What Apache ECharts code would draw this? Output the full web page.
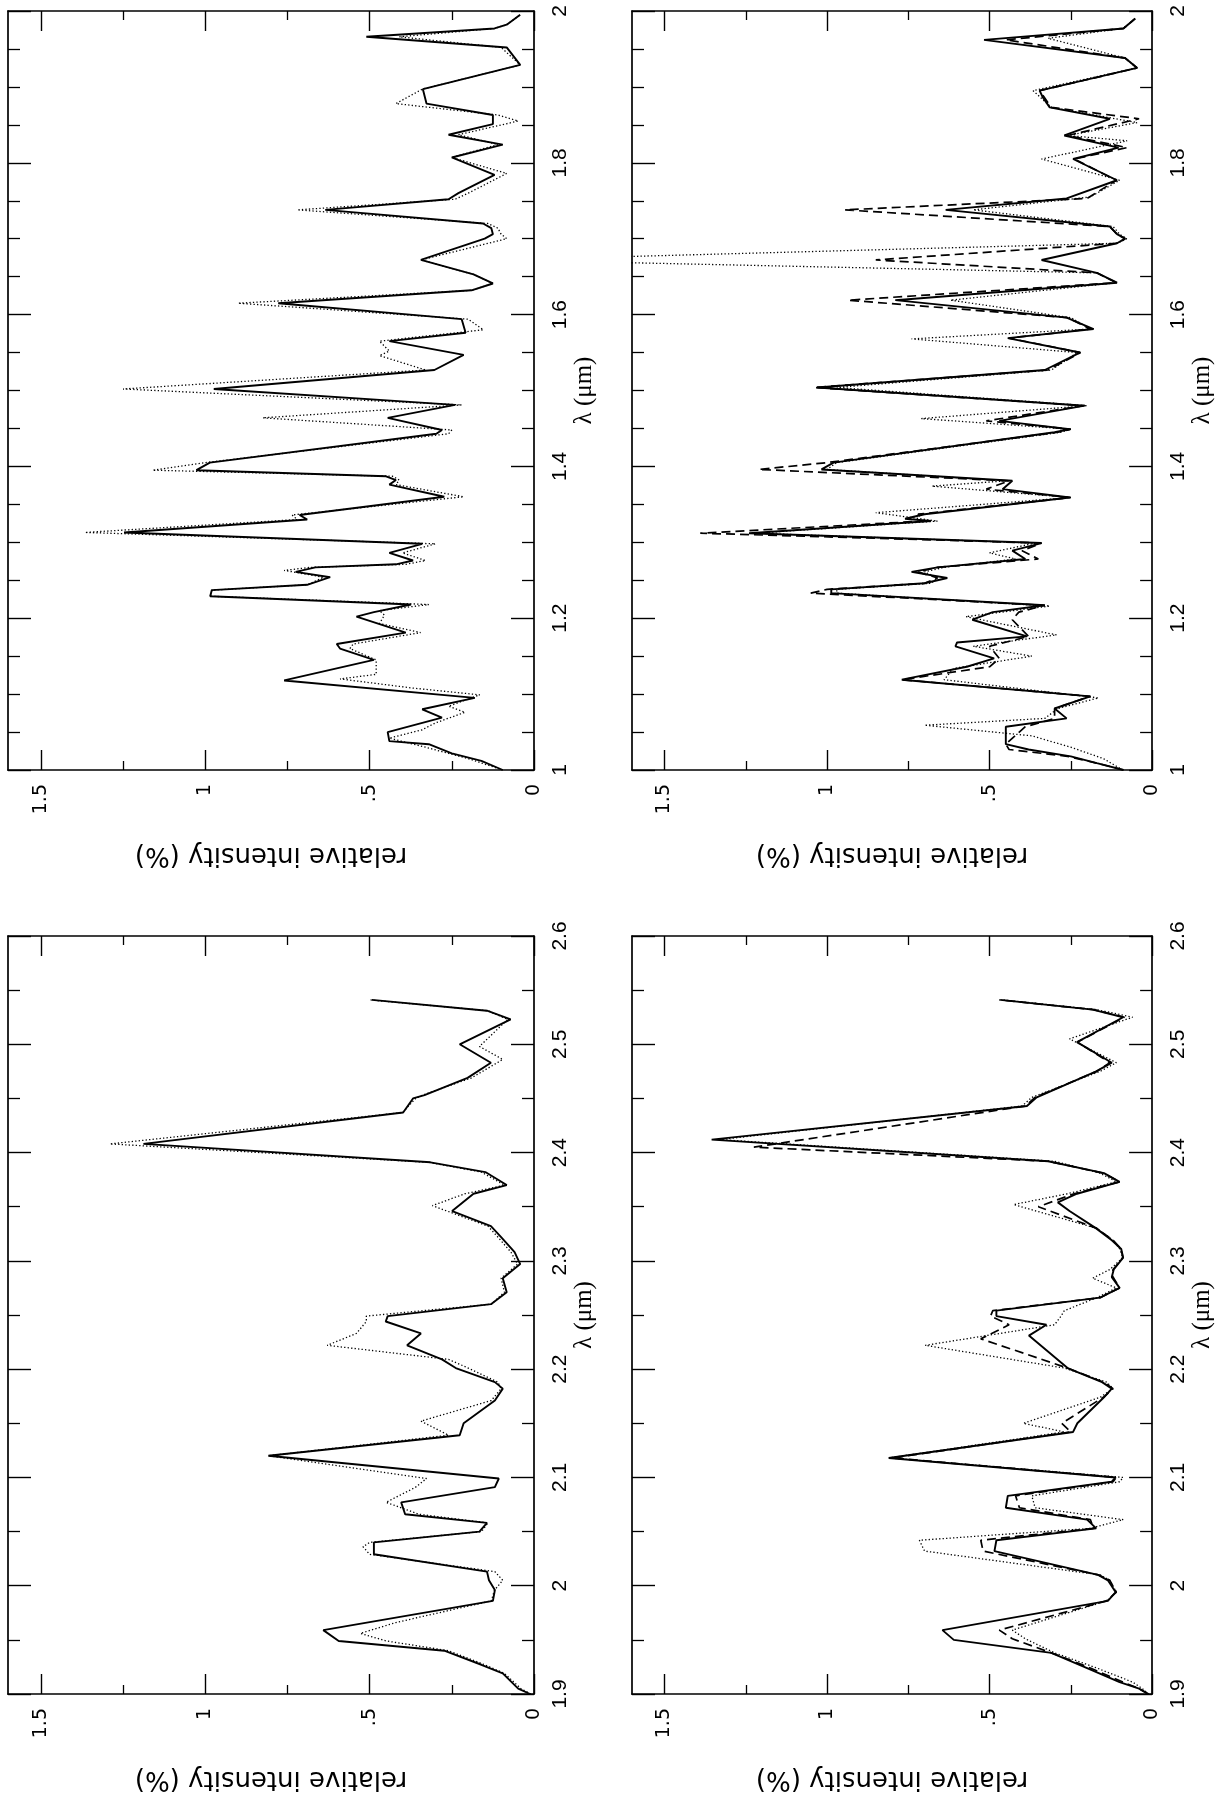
<!DOCTYPE html>
<html><head><meta charset="utf-8">
<script src="https://cdn.jsdelivr.net/npm/echarts@6/dist/echarts.min.js"></script>
<style>html,body{margin:0;padding:0;background:#fff}#c{width:1216px;height:1807px}</style>
</head><body><div id="c"></div>
<script>
// ---- tick values / labels ----
const intensityTicks = [0, 0.5, 1, 1.5];
const intensityMinorTicks = [0.25, 0.75, 1.25];
const intensityLabels = ['0', '.5', '1', '1.5'];
const xName = 'relative intensity (%)';
const yName = 'λ (μm)';

// ---- data: [wavelength (μm), relative intensity (%)] ----
// top-left panel (1–2 μm)
const tlSolid = [[1.000,0.095],[1.012,0.16],[1.022,0.25],[1.034,0.32],[1.038,0.44],[1.050,0.445],[1.069,0.28],[1.080,0.34],[1.095,0.18],[1.118,0.76],[1.145,0.487],[1.160,0.59],[1.166,0.60],[1.181,0.39],[1.202,0.54],[1.208,0.487],[1.218,0.374],[1.229,0.985],[1.237,0.98],[1.244,0.69],[1.254,0.62],[1.261,0.725],[1.267,0.665],[1.271,0.42],[1.276,0.368],[1.286,0.44],[1.298,0.34],[1.313,1.247],[1.330,0.69],[1.336,0.713],[1.360,0.273],[1.376,0.44],[1.382,0.42],[1.387,0.45],[1.395,1.027],[1.405,0.986],[1.443,0.297],[1.448,0.28],[1.464,0.445],[1.481,0.24],[1.502,0.974],[1.527,0.303],[1.547,0.214],[1.565,0.44],[1.576,0.208],[1.594,0.22],[1.615,0.778],[1.632,0.19],[1.641,0.125],[1.653,0.184],[1.672,0.344],[1.700,0.15],[1.706,0.125],[1.714,0.13],[1.720,0.155],[1.738,0.635],[1.752,0.26],[1.760,0.23],[1.784,0.12],[1.807,0.25],[1.824,0.095],[1.837,0.26],[1.851,0.125],[1.863,0.125],[1.878,0.327],[1.897,0.338],[1.929,0.042],[1.952,0.083],[1.966,0.51],[1.977,0.12],[1.982,0.083],[1.995,0.042]];
const tlDot = [[1.000,0.095],[1.015,0.20],[1.030,0.33],[1.042,0.44],[1.053,0.34],[1.062,0.30],[1.076,0.21],[1.084,0.26],[1.099,0.165],[1.108,0.37],[1.120,0.59],[1.126,0.48],[1.145,0.48],[1.160,0.56],[1.166,0.55],[1.181,0.345],[1.193,0.47],[1.204,0.455],[1.210,0.47],[1.218,0.32],[1.229,0.985],[1.237,0.98],[1.244,0.69],[1.254,0.64],[1.263,0.76],[1.267,0.68],[1.271,0.39],[1.276,0.33],[1.286,0.40],[1.298,0.30],[1.313,1.366],[1.330,0.72],[1.336,0.736],[1.360,0.214],[1.376,0.42],[1.382,0.41],[1.387,0.43],[1.395,1.16],[1.405,1.0],[1.443,0.26],[1.448,0.25],[1.464,0.825],[1.481,0.22],[1.502,1.25],[1.527,0.33],[1.546,0.47],[1.552,0.44],[1.565,0.47],[1.580,0.154],[1.594,0.20],[1.615,0.90],[1.632,0.19],[1.641,0.125],[1.653,0.184],[1.672,0.344],[1.700,0.083],[1.706,0.10],[1.714,0.11],[1.720,0.14],[1.738,0.72],[1.752,0.24],[1.760,0.20],[1.786,0.083],[1.807,0.25],[1.824,0.11],[1.837,0.23],[1.855,0.048],[1.863,0.11],[1.878,0.42],[1.897,0.34],[1.929,0.042],[1.952,0.10],[1.966,0.41],[1.977,0.12],[1.982,0.083],[1.995,0.042]];
// top-right panel (1–2 μm)
const trSolid = [[1.000,0.088],[1.009,0.17],[1.018,0.25],[1.027,0.38],[1.034,0.45],[1.057,0.45],[1.068,0.263],[1.081,0.30],[1.097,0.19],[1.119,0.77],[1.136,0.57],[1.147,0.486],[1.163,0.605],[1.168,0.60],[1.176,0.385],[1.198,0.553],[1.208,0.49],[1.217,0.33],[1.233,0.987],[1.238,0.987],[1.246,0.70],[1.253,0.63],[1.261,0.74],[1.267,0.66],[1.278,0.39],[1.289,0.43],[1.299,0.34],[1.312,1.24],[1.328,0.68],[1.331,0.76],[1.337,0.70],[1.359,0.253],[1.370,0.46],[1.381,0.43],[1.396,1.017],[1.405,0.98],[1.445,0.30],[1.449,0.253],[1.460,0.47],[1.480,0.207],[1.504,1.03],[1.527,0.33],[1.550,0.222],[1.569,0.444],[1.581,0.18],[1.596,0.263],[1.619,0.79],[1.642,0.108],[1.655,0.17],[1.672,0.34],[1.694,0.108],[1.700,0.083],[1.706,0.108],[1.716,0.13],[1.738,0.635],[1.753,0.263],[1.777,0.108],[1.805,0.243],[1.820,0.103],[1.836,0.27],[1.858,0.13],[1.873,0.315],[1.886,0.336],[1.895,0.346],[1.925,0.046],[1.938,0.083],[1.962,0.517],[1.977,0.088],[1.990,0.052]];
const trDot = [[1.000,0.09],[1.015,0.15],[1.030,0.25],[1.045,0.37],[1.059,0.70],[1.068,0.33],[1.081,0.29],[1.095,0.165],[1.119,0.64],[1.134,0.61],[1.150,0.37],[1.163,0.55],[1.178,0.294],[1.202,0.573],[1.216,0.315],[1.233,0.97],[1.238,0.97],[1.246,0.68],[1.253,0.66],[1.261,0.70],[1.267,0.64],[1.278,0.42],[1.286,0.50],[1.299,0.36],[1.312,1.22],[1.328,0.66],[1.339,0.85],[1.359,0.25],[1.374,0.677],[1.381,0.45],[1.396,1.00],[1.405,0.97],[1.445,0.28],[1.449,0.25],[1.463,0.71],[1.480,0.20],[1.504,0.97],[1.527,0.31],[1.550,0.23],[1.568,0.74],[1.581,0.19],[1.596,0.25],[1.619,0.62],[1.642,0.11],[1.655,0.17],[1.672,2.0],[1.694,0.108],[1.700,0.078],[1.706,0.10],[1.716,0.12],[1.738,0.55],[1.755,0.19],[1.777,0.10],[1.805,0.34],[1.829,0.077],[1.836,0.26],[1.853,0.046],[1.873,0.31],[1.895,0.366],[1.925,0.046],[1.938,0.083],[1.964,0.32],[1.977,0.09],[1.990,0.052]];
const trDash = [[1.000,0.088],[1.009,0.17],[1.018,0.26],[1.027,0.44],[1.034,0.45],[1.057,0.39],[1.068,0.30],[1.081,0.30],[1.097,0.19],[1.119,0.77],[1.136,0.50],[1.147,0.47],[1.163,0.50],[1.176,0.38],[1.198,0.43],[1.208,0.41],[1.217,0.33],[1.233,1.05],[1.238,1.0],[1.246,0.70],[1.253,0.66],[1.261,0.72],[1.267,0.66],[1.278,0.35],[1.289,0.40],[1.299,0.34],[1.312,1.39],[1.328,0.70],[1.337,0.72],[1.359,0.25],[1.370,0.51],[1.381,0.44],[1.396,1.21],[1.405,1.0],[1.445,0.29],[1.449,0.25],[1.460,0.51],[1.480,0.21],[1.504,1.04],[1.527,0.32],[1.550,0.22],[1.569,0.44],[1.581,0.19],[1.596,0.26],[1.619,0.935],[1.642,0.11],[1.655,0.17],[1.672,0.85],[1.694,0.108],[1.700,0.083],[1.706,0.108],[1.716,0.13],[1.738,0.945],[1.753,0.20],[1.777,0.11],[1.805,0.24],[1.820,0.077],[1.836,0.26],[1.858,0.04],[1.873,0.31],[1.895,0.346],[1.925,0.046],[1.938,0.083],[1.962,0.45],[1.977,0.088],[1.990,0.052]];
// bottom-left panel (1.9–2.6 μm)
const blSolid = [[1.900,0.012],[1.905,0.048],[1.919,0.095],[1.927,0.16],[1.940,0.273],[1.949,0.594],[1.959,0.641],[1.986,0.125],[1.996,0.119],[2.005,0.137],[2.013,0.143],[2.029,0.487],[2.040,0.487],[2.050,0.166],[2.058,0.143],[2.066,0.392],[2.077,0.404],[2.091,0.119],[2.099,0.107],[2.120,0.808],[2.139,0.226],[2.150,0.214],[2.171,0.119],[2.182,0.095],[2.188,0.119],[2.201,0.238],[2.209,0.28],[2.222,0.386],[2.233,0.344],[2.244,0.451],[2.249,0.445],[2.260,0.131],[2.271,0.083],[2.284,0.095],[2.297,0.042],[2.308,0.059],[2.322,0.10],[2.332,0.131],[2.346,0.249],[2.362,0.184],[2.370,0.083],[2.382,0.148],[2.391,0.315],[2.408,1.188],[2.437,0.398],[2.450,0.368],[2.453,0.333],[2.469,0.202],[2.483,0.131],[2.500,0.226],[2.523,0.071],[2.531,0.143],[2.541,0.493]];
const blDot = [[1.900,0.01],[1.905,0.04],[1.919,0.09],[1.927,0.15],[1.940,0.26],[1.949,0.45],[1.956,0.528],[1.966,0.42],[1.986,0.13],[1.996,0.12],[2.005,0.095],[2.013,0.119],[2.029,0.50],[2.036,0.52],[2.040,0.50],[2.050,0.16],[2.058,0.14],[2.066,0.35],[2.077,0.45],[2.091,0.36],[2.099,0.327],[2.120,0.808],[2.139,0.26],[2.152,0.344],[2.171,0.13],[2.182,0.10],[2.188,0.11],[2.201,0.20],[2.209,0.26],[2.222,0.629],[2.233,0.54],[2.244,0.51],[2.249,0.51],[2.260,0.13],[2.271,0.09],[2.284,0.10],[2.297,0.05],[2.308,0.07],[2.322,0.11],[2.332,0.14],[2.351,0.309],[2.362,0.21],[2.370,0.09],[2.382,0.16],[2.391,0.32],[2.408,1.29],[2.437,0.40],[2.450,0.36],[2.453,0.34],[2.469,0.19],[2.486,0.095],[2.498,0.166],[2.523,0.08],[2.531,0.14],[2.541,0.50]];
// bottom-right panel (1.9–2.6 μm)
const brSolid = [[1.900,0.012],[1.905,0.04],[1.911,0.10],[1.924,0.20],[1.938,0.31],[1.950,0.61],[1.959,0.645],[1.986,0.136],[1.994,0.112],[2.005,0.136],[2.010,0.166],[2.032,0.485],[2.042,0.479],[2.053,0.172],[2.061,0.20],[2.072,0.45],[2.083,0.444],[2.096,0.124],[2.100,0.112],[2.118,0.81],[2.142,0.243],[2.150,0.23],[2.174,0.148],[2.182,0.124],[2.188,0.154],[2.201,0.26],[2.231,0.379],[2.241,0.325],[2.249,0.479],[2.254,0.479],[2.266,0.16],[2.275,0.10],[2.285,0.124],[2.292,0.118],[2.303,0.089],[2.311,0.095],[2.319,0.124],[2.330,0.172],[2.346,0.254],[2.354,0.29],[2.362,0.231],[2.373,0.10],[2.381,0.148],[2.392,0.32],[2.412,1.355],[2.443,0.385],[2.451,0.355],[2.475,0.172],[2.483,0.124],[2.502,0.231],[2.525,0.089],[2.532,0.183],[2.541,0.467]];
const brDot = [[1.900,0.01],[1.905,0.03],[1.911,0.06],[1.924,0.17],[1.938,0.30],[1.951,0.39],[1.959,0.43],[1.986,0.14],[1.994,0.11],[2.005,0.13],[2.010,0.16],[2.032,0.70],[2.042,0.716],[2.053,0.19],[2.061,0.089],[2.072,0.36],[2.083,0.37],[2.096,0.10],[2.100,0.089],[2.118,0.81],[2.142,0.27],[2.150,0.396],[2.174,0.16],[2.182,0.12],[2.188,0.14],[2.201,0.27],[2.222,0.698],[2.241,0.30],[2.249,0.28],[2.254,0.27],[2.266,0.17],[2.275,0.11],[2.284,0.183],[2.292,0.13],[2.303,0.09],[2.311,0.10],[2.319,0.12],[2.330,0.17],[2.352,0.426],[2.362,0.26],[2.373,0.11],[2.381,0.16],[2.392,0.30],[2.412,1.33],[2.443,0.40],[2.451,0.37],[2.475,0.16],[2.483,0.11],[2.505,0.254],[2.525,0.06],[2.532,0.17],[2.541,0.46]];
const brDash = [[1.900,0.012],[1.905,0.04],[1.911,0.09],[1.924,0.19],[1.938,0.31],[1.951,0.43],[1.959,0.47],[1.986,0.14],[1.994,0.11],[2.005,0.13],[2.010,0.165],[2.032,0.52],[2.042,0.527],[2.053,0.18],[2.061,0.19],[2.072,0.408],[2.083,0.42],[2.096,0.12],[2.100,0.11],[2.118,0.80],[2.142,0.25],[2.150,0.278],[2.174,0.15],[2.182,0.12],[2.188,0.15],[2.201,0.26],[2.228,0.527],[2.241,0.44],[2.249,0.497],[2.254,0.49],[2.266,0.16],[2.275,0.10],[2.287,0.124],[2.292,0.12],[2.303,0.09],[2.311,0.095],[2.319,0.12],[2.330,0.17],[2.350,0.35],[2.362,0.24],[2.373,0.10],[2.381,0.15],[2.392,0.32],[2.405,1.225],[2.443,0.39],[2.451,0.36],[2.475,0.17],[2.483,0.13],[2.502,0.23],[2.525,0.085],[2.532,0.18],[2.541,0.47]];

// ---- layout / styling ----
const grids = [
  {left: 8,   top: 11,  width: 526, height: 759},
  {left: 632, top: 11,  width: 524, height: 759},
  {left: 8,   top: 936, width: 526, height: 758},
  {left: 632, top: 936, width: 524, height: 758}
];
const lamRanges = [[1, 2, 0.2, 4], [1, 2, 0.2, 4], [1.9, 2.6, 0.1, 2], [1.9, 2.6, 0.1, 2]];
const panelSeries = [
  [['dot', tlDot], ['solid', tlSolid]],
  [['dot', trDot], ['dash', trDash], ['solid', trSolid]],
  [['dot', blDot], ['solid', blSolid]],
  [['dot', brDot], ['dash', brDash], ['solid', brSolid]]
];
const lineStyles = {
  solid: {color: '#000', width: 1.9, type: 'solid'},
  dot:   {color: '#000', width: 1.3, type: [1.3, 2.2]},
  dash:  {color: '#000', width: 1.7, type: [9, 5]}
};
const BLACK = '#000';
const frameLine = {show: true, onZero: false, lineStyle: {color: BLACK, width: 1.7}};

const xAxes = [], yAxes = [], series = [];
grids.forEach((g, gi) => {
  const base = {gridIndex: gi, type: 'value', min: 0, max: 1.6, inverse: true, interval: 0.5,
                splitLine: {show: false}, axisPointer: {show: false}};
  // bottom major: frame line, long ticks, labels, name
  xAxes.push(Object.assign({}, base, {
    position: 'bottom', axisLine: frameLine,
    axisTick: {show: true, inside: true, length: 20, customValues: intensityTicks, lineStyle: {color: BLACK, width: 1.4}},
    axisLabel: {show: true, customValues: intensityTicks, rotate: 90, margin: 14, color: BLACK,
      fontFamily: 'DejaVu Sans', fontSize: 19,
      formatter: v => { const i = intensityTicks.findIndex(t => Math.abs(t - v) < 1e-6); return i < 0 ? '' : intensityLabels[i]; }},
    name: xName, nameLocation: 'middle', nameRotate: 180, nameGap: 72,
    nameTextStyle: {color: BLACK, fontFamily: 'DejaVu Sans', fontSize: 26}
  }));
  // bottom minor ticks
  xAxes.push(Object.assign({}, base, {
    position: 'bottom', axisLine: {show: false, onZero: false},
    axisTick: {show: true, inside: true, length: 9, customValues: intensityMinorTicks, lineStyle: {color: BLACK, width: 1.3}},
    axisLabel: {show: false}
  }));
  // top major
  xAxes.push(Object.assign({}, base, {
    position: 'top', axisLine: frameLine,
    axisTick: {show: true, inside: true, length: 20, customValues: intensityTicks, lineStyle: {color: BLACK, width: 1.4}},
    axisLabel: {show: false}
  }));
  // top minor
  xAxes.push(Object.assign({}, base, {
    position: 'top', axisLine: {show: false, onZero: false},
    axisTick: {show: true, inside: true, length: 9, customValues: intensityMinorTicks, lineStyle: {color: BLACK, width: 1.3}},
    axisLabel: {show: false}
  }));
  const [lmin, lmax, lint, lsplit] = lamRanges[gi];
  const ybase = {gridIndex: gi, type: 'value', min: lmin, max: lmax, interval: lint,
                 splitLine: {show: false}, axisPointer: {show: false}, axisLine: frameLine,
                 axisTick: {show: true, inside: true, length: 23, lineStyle: {color: BLACK, width: 1.4}},
                 minorTick: {show: true, splitNumber: lsplit, length: 12, lineStyle: {color: BLACK, width: 1.3}}};
  yAxes.push(Object.assign({}, ybase, {
    position: 'right',
    axisLabel: {show: true, rotate: 90, margin: 16, color: BLACK, fontFamily: 'Liberation Sans', fontSize: 21,
      formatter: v => String(Math.round(v * 10) / 10)},
    name: yName, nameLocation: 'middle', nameRotate: 90, nameGap: 37,
    nameTextStyle: {color: BLACK, fontFamily: 'Liberation Serif', fontSize: 25}
  }));
  yAxes.push(Object.assign({}, ybase, {position: 'left', axisLabel: {show: false}}));

  panelSeries[gi].forEach(([kind, pts]) => {
    series.push({
      type: 'line', xAxisIndex: gi * 4, yAxisIndex: gi * 2,
      data: pts.map(p => [p[1], p[0]]),
      showSymbol: false, symbol: 'none', silent: true, clip: true,
      lineStyle: lineStyles[kind], z: kind === 'solid' ? 5 : (kind === 'dash' ? 4 : 3)
    });
  });
});

const chart = echarts.init(document.getElementById('c'), null, {renderer: 'canvas'});
chart.setOption({
  animation: false,
  backgroundColor: '#fff',
  grid: grids.map(g => Object.assign({containLabel: false}, g)),
  xAxis: xAxes, yAxis: yAxes, series: series
});
</script></body></html>
